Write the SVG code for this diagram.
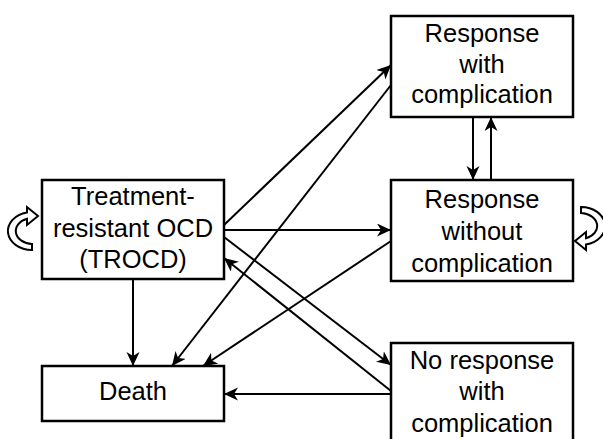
<svg xmlns="http://www.w3.org/2000/svg" width="603" height="439" viewBox="0 0 603 439">
<style>
.box{fill:#fff;stroke:#000;stroke-width:2.5}
.t{font-family:"Liberation Sans",Arial,sans-serif;font-size:25.5px;fill:#000;text-anchor:middle}
.c{stroke:#000;stroke-width:2;fill:none;marker-end:url(#ah)}
.loop{fill:#fff;stroke:#000;stroke-width:2;stroke-linejoin:miter}
</style>
<defs>
<marker id="ah" markerUnits="userSpaceOnUse" markerWidth="16" markerHeight="14" refX="14" refY="6.5" orient="auto">
<path d="M0,0 L14,6.5 L0,13 L4,6.5 Z" fill="#000"/>
</marker>
<path id="loopshape" d="M0,19 A24,19 0 0 1 -5,-18.6 L-5,-24 L6,-15 L-5,-6 L-5,-12.2 A17,13 0 0 0 0,13 Z"/>
</defs>
<rect width="603" height="439" fill="#fff"/>
<g id="connectors">
<line class="c" x1="133" y1="279" x2="133" y2="366"/>
<line class="c" x1="224" y1="225" x2="391" y2="65"/>
<line class="c" x1="391" y1="85" x2="172" y2="366"/>
<line class="c" x1="224" y1="230" x2="391" y2="230"/>
<line class="c" x1="391" y1="241" x2="203" y2="366"/>
<line class="c" x1="224" y1="237" x2="391" y2="365"/>
<line class="c" x1="391" y1="391" x2="224" y2="258"/>
<line class="c" x1="391" y1="394" x2="224" y2="394"/>
<line class="c" x1="473" y1="117" x2="473" y2="180"/>
<line class="c" x1="491" y1="180" x2="491" y2="117"/>
</g>
<g id="trocd">
<rect class="box" x="42" y="180" width="182" height="99"/>
<text class="t" x="133" y="205">Treatment-</text>
<text class="t" x="133" y="237">resistant OCD</text>
<text class="t" x="133" y="268">(TROCD)</text>
<use href="#loopshape" class="loop" transform="translate(32,231)"/>
</g>
<g id="resp-with">
<rect class="box" x="391" y="16" width="182" height="101"/>
<text class="t" x="482" y="41.5">Response</text>
<text class="t" x="482" y="72.5">with</text>
<text class="t" x="482" y="103">complication</text>
</g>
<g id="resp-without">
<rect class="box" x="391" y="180" width="182" height="101"/>
<text class="t" x="482" y="208">Response</text>
<text class="t" x="482" y="240">without</text>
<text class="t" x="482" y="272">complication</text>
<use href="#loopshape" class="loop" transform="translate(581,226) rotate(180)"/>
</g>
<g id="noresp">
<rect class="box" x="391" y="343" width="182" height="110"/>
<text class="t" x="482" y="369">No response</text>
<text class="t" x="482" y="400">with</text>
<text class="t" x="482" y="432">complication</text>
</g>
<g id="death">
<rect class="box" x="42" y="366" width="182" height="55"/>
<text class="t" x="133" y="400">Death</text>
</g>
</svg>
